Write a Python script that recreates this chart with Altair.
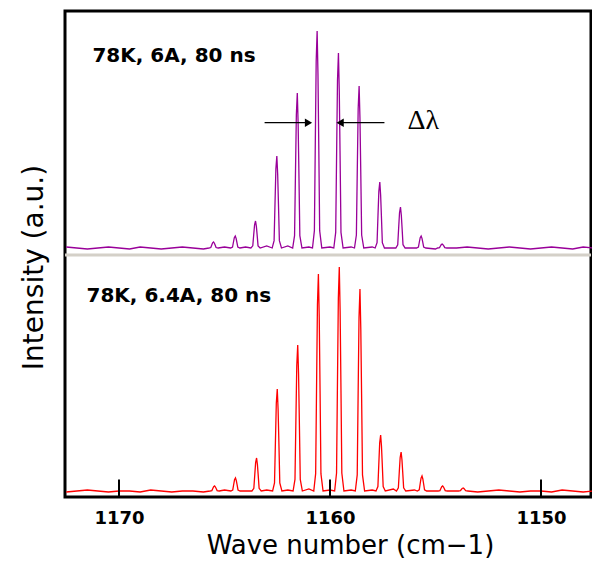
import altair as alt
import pandas as pd

# ---------------- data ----------------
x_domain = [1147.63, 1172.56]          # reversed axis (high wave number on the left)
tick_values = [1170, 1160, 1150]

# peak centres (cm-1) and heights (a.u., ~px) of the two spectra
purple_centers = [1165.52, 1164.49, 1163.53, 1162.52, 1161.55, 1160.61,
                  1159.60, 1158.62, 1157.64, 1156.66, 1155.68, 1154.68]
purple_heights = [6, 12, 27, 92, 155, 217, 195, 162, 66, 41, 12, 4]

red_centers = [1165.47, 1164.48, 1163.48, 1162.50, 1161.53, 1160.55,
               1159.56, 1158.58, 1157.60, 1156.63, 1155.64, 1154.66, 1153.69]
red_heights = [5, 13, 33, 102, 146, 217, 224, 202, 56, 39, 15, 5, 3]

# baseline (noise floor) samples
baseline_wn = [1147.5, 1148.0, 1148.5, 1149.0, 1149.5, 1150.0, 1150.5, 1151.0,
               1151.5, 1152.0, 1152.5, 1153.0, 1153.5, 1154.0, 1154.5, 1155.0,
               1155.5, 1156.0, 1156.5, 1157.0, 1157.5, 1158.0, 1158.5, 1159.0,
               1159.5, 1160.0, 1160.5, 1161.0, 1161.5, 1162.0, 1162.5, 1163.0,
               1163.5, 1164.0, 1164.5, 1165.0, 1165.5, 1166.0, 1166.5, 1167.0,
               1167.5, 1168.0, 1168.5, 1169.0, 1169.5, 1170.0, 1170.5, 1171.0,
               1171.5, 1172.0, 1172.5]
purple_noise = [1, 2, 0, 1, 2, 1, 0, 1, 2, 1, 0, 1, 2, 1, 1, 0, 2, 1, 0, 1,
                2, 2, 1, 2, 3, 2, 3, 2, 3, 3, 2, 3, 2, 2, 1, 2, 1, 0, 1, 2,
                1, 0, 1, 2, 0, 1, 2, 1, 0, 1, 2]
red_noise = [1, 0, 1, 2, 0, 1, 1, 0, 1, 2, 1, 0, 1, 1, 2, 1, 2, 2, 2, 3,
             2, 2, 3, 2, 3, 2, 2, 3, 2, 2, 3, 2, 2, 1, 1, 2, 1, 0, 1, 1,
             0, 1, 2, 0, 1, 1, 0, 1, 2, 1, 0]

purple_offset = 248   # vertical offset of the upper trace
red_offset = 5
separator_y = 242

# peak profile (line shape of one mode)
profile_dx = [0.22, 0.13, 0.085, 0.045, 0.0, -0.04, -0.08, -0.12, -0.22]
profile_frac = [0.0, 0.08, 0.5, 0.86, 1.0, 0.8, 0.45, 0.08, 0.0]

labels_text = ["78K, 6A, 80 ns", "78K, 6.4A, 80 ns"]
labels_wn = [1171.26, 1171.54]
labels_y = [435.3, 195.3]

arrow_y = 374.3
arrow_lines_wn = [1163.10, 1157.42]
arrow_lines_wn2 = [1161.0, 1159.55]
arrow_heads_wn = [1161.02, 1159.52]
arrow_heads_shape = ["triangle-right", "triangle-left"]
delta_wn, delta_y = 1156.33, 368.0

tick_len = 17.5


def build_trace(centers, heights, noise, offset):
    rows = []
    for w, n in zip(baseline_wn, noise):
        if all(abs(w - c) > 0.26 for c in centers):
            rows.append((w, offset + n))
    for c, h in zip(centers, heights):
        for dx, f in zip(profile_dx, profile_frac):
            rows.append((c + dx, offset + 1 + f * h))
    rows.sort()
    return pd.DataFrame(rows, columns=["wn", "y"])


purple_df = build_trace(purple_centers, purple_heights, purple_noise, purple_offset)
red_df = build_trace(red_centers, red_heights, red_noise, red_offset)

x_enc = alt.X(
    "wn:Q",
    scale=alt.Scale(domain=x_domain, reverse=True, nice=False, zero=False),
    axis=alt.Axis(values=tick_values, ticks=False, tickSize=0, domain=False, grid=False,
                  format="d", labelFont="DejaVu Sans", labelFontWeight="bold",
                  labelFontSize=18, labelColor="black", labelBaseline="alphabetic",
                  labelPadding=26,
                  title="Wave number (cm\u22121)", titleFont="DejaVu Sans",
                  titleFontSize=26, titleFontWeight="normal", titleColor="black",
                  titleX=285, titleY=56, titleAlign="center",
                  titleBaseline="alphabetic"),
)
y_enc = alt.Y(
    "y:Q",
    scale=alt.Scale(domain=[0, 486], nice=False, zero=False),
    axis=alt.Axis(labels=False, ticks=False, domain=False, grid=False,
                  title="Intensity (a.u.)", titleFont="DejaVu Sans",
                  titleFontSize=28, titleFontWeight="normal", titleColor="black",
                  titleAngle=270, titleX=-23, titleY=256, titleAlign="center",
                  titleBaseline="alphabetic"),
)

sep = alt.Chart(pd.DataFrame({"y": [separator_y]})).mark_rule(
    color="#D4D0C8", strokeWidth=3).encode(y=y_enc)

purple = alt.Chart(purple_df).mark_line(color="#990099", strokeWidth=1.3).encode(
    x=x_enc, y=y_enc, order="wn:Q")
red = alt.Chart(red_df).mark_line(color="#FF0000", strokeWidth=1.3).encode(
    x=x_enc, y=y_enc, order="wn:Q")

ticks = alt.Chart(pd.DataFrame({"wn": tick_values, "y": [0] * 3,
                                "y2": [tick_len] * 3})).mark_rule(
    color="black", strokeWidth=2).encode(x=x_enc, y=y_enc, y2="y2:Q")

labels = alt.Chart(pd.DataFrame({"wn": labels_wn, "y": labels_y,
                                 "t": labels_text})).mark_text(
    align="left", baseline="alphabetic", font="DejaVu Sans", fontWeight="bold",
    fontSize=20, color="black").encode(x=x_enc, y=y_enc, text="t:N")

arrow_lines = alt.Chart(pd.DataFrame({"wn": arrow_lines_wn, "wn2": arrow_lines_wn2,
                                      "y": [arrow_y] * 2})).mark_rule(
    color="black", strokeWidth=1.3).encode(x=x_enc, x2="wn2:Q", y=y_enc)

arrow_heads = alt.Chart(pd.DataFrame({"wn": arrow_heads_wn, "y": [arrow_y] * 2,
                                      "s": arrow_heads_shape})).mark_point(
    filled=True, color="black", opacity=1, size=70).encode(
    x=x_enc, y=y_enc, shape=alt.Shape("s:N", scale=None))

delta = alt.Chart(pd.DataFrame({"wn": [delta_wn], "y": [delta_y],
                                "t": ["\u0394\u03bb"]})).mark_text(
    align="left", baseline="alphabetic", font="Liberation Serif",
    fontSize=28, color="black").encode(x=x_enc, y=y_enc, text="t:N")

chart = alt.layer(sep, purple, red, ticks, arrow_lines, arrow_heads, labels, delta).properties(
    width=526, height=486,
    autosize=alt.AutoSizeParams(type="none"),
    padding={"left": 57, "top": 3, "right": 1, "bottom": 62},
).configure(
    background="white",
    view=alt.ViewConfig(stroke="black", strokeWidth=3),
)

chart.save("out.html", embed_options={"renderer": "svg", "actions": False})
